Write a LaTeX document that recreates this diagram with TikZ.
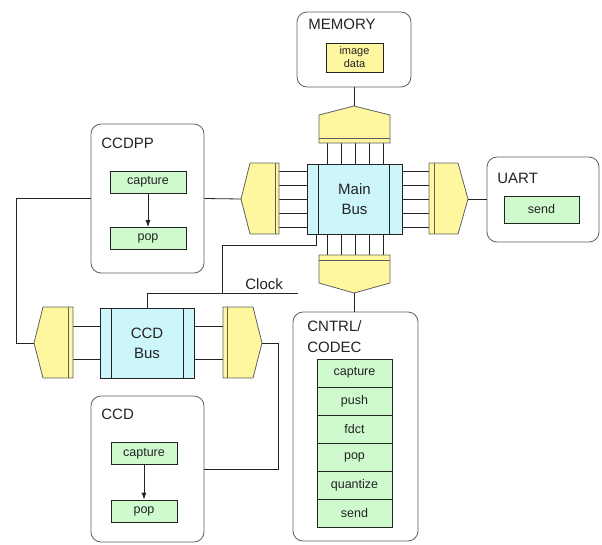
\documentclass[tikz,border=0pt]{standalone}
\usepackage{fontspec}
\setmainfont{Liberation Sans}
\usetikzlibrary{arrows.meta,calc}

\definecolor{portyellow}{RGB}{255,247,160}
\definecolor{buscyan}{RGB}{204,246,250}
\definecolor{taskgreen}{RGB}{206,250,206}
\definecolor{edgegray}{RGB}{95,95,95}
\definecolor{inkgray}{RGB}{35,35,35}

\begin{document}
\begin{tikzpicture}[x=1pt,y=-1pt,line width=0.8pt,
    unit/.style={draw=edgegray, rounded corners=10pt, fill=white, inner sep=0},
    title/.style={anchor=base west, inner sep=0, text=inkgray, font=\fontsize{15}{21}\selectfont, align=left},
    task/.style={draw=inkgray, fill=taskgreen, inner sep=0, minimum height=22pt, text=inkgray, font=\fontsize{12.5}{14}\selectfont},
    bus/.style={draw=inkgray, fill=buscyan, inner sep=0, text=inkgray, align=center, font=\fontsize{15}{20}\selectfont},
    port/.style={draw=edgegray, fill=portyellow, line join=round},
    wire/.style={draw=inkgray}]
    \useasboundingbox (0,0) rectangle (602,544);

    % units
    \node[unit, minimum width=114pt, minimum height=75pt] (mem) at (354,49.5) {};
    \node[title] at (308,29) {MEMORY};
    \node[draw=inkgray, fill=portyellow, minimum width=57pt, minimum height=29pt, inner sep=0,
          align=center, text=inkgray, font=\fontsize{11}{13}\selectfont] (img) at (354.5,57.5) {image\\data};

    \node[unit, minimum width=113pt, minimum height=149pt] (ccdpp) at (147.5,198.5) {};
    \node[title] at (101,148) {CCDPP};
    \node[task, minimum width=76pt] (ccdppcap) at (148,182) {capture};
    \node[task, minimum width=76pt] (ccdpppop) at (148,238.5) {pop};
    \draw[wire, -{Latex[length=7pt,width=5pt]}] (ccdppcap) -- (ccdpppop);

    \node[unit, minimum width=112pt, minimum height=85pt] (uart) at (543,199.5) {};
    \node[title] at (497,183) {UART};
    \node[task, minimum width=75pt, minimum height=27pt] (uartsend) at (541.5,209.5) {send};

    \node[unit, minimum width=113pt, minimum height=146pt] (ccd) at (147.5,469) {};
    \node[title] at (101,419) {CCD};
    \node[task, minimum width=66pt] (ccdcap) at (144,453.5) {capture};
    \node[task, minimum width=66pt] (ccdpop) at (144,511) {pop};
    \draw[wire, -{Latex[length=7pt,width=5pt]}] (ccdcap) -- (ccdpop);

    \node[unit, minimum width=125pt, minimum height=229pt] (cntrl) at (355.5,426.5) {};
    \node[title] at (307,352) {CNTRL/\\CODEC};
    \foreach \t [count=\i] in {capture,push,fdct,pop,quantize,send}
        \node[task, minimum width=75pt, minimum height=28pt] (op\i) at (354.5,345+28*\i) {\t};

    % bus wires
    \foreach \x in {327,341,355,369,383} {
        \draw[wire] (\x,143) -- (\x,164);
        \draw[wire] (\x,234) -- (\x,255);
    }
    \foreach \y in {171,185,199,213,227} {
        \draw[wire] (279,\y) -- (307,\y);
        \draw[wire] (402,\y) -- (429,\y);
    }
    \foreach \y in {326,359} {
        \draw[wire] (73,\y) -- (100,\y);
        \draw[wire] (194,\y) -- (223,\y);
    }

    % main bus and its ports
    \node[bus, minimum width=95pt, minimum height=70pt] (mainbus) at (354.5,199) {Main\\Bus};
    \draw[inkgray] ($(mainbus.north west)+(12,0)$) -- ($(mainbus.south west)+(12,0)$);
    \draw[inkgray] ($(mainbus.north east)+(-13,0)$) -- ($(mainbus.south east)+(-13,0)$);

    \draw[port] (319,143) -- (319,115) -- (354,106) coordinate (toptip) -- (390,115) -- (390,143) -- cycle;
    \draw[edgegray] (319,138) -- (390,138);
    \draw[port] (279,163) -- (250,163) -- (241,199) coordinate (lefttip) -- (250,234) -- (279,234) -- cycle;
    \draw[edgegray] (275,163) -- (275,234);
    \draw[port] (429,163) -- (458,163) -- (468,199) coordinate (righttip) -- (458,234) -- (429,234) -- cycle;
    \draw[edgegray] (434,163) -- (434,234);
    \draw[port] (319,255) -- (390,255) -- (390,283) -- (354,293) coordinate (bottip) -- (319,283) -- cycle;
    \draw[edgegray] (319,260) -- (390,260);

    % ccd bus and its ports
    \node[bus, minimum width=94pt, minimum height=70pt] (ccdbus) at (147,343) {CCD\\Bus};
    \draw[inkgray] ($(ccdbus.north west)+(12,0)$) -- ($(ccdbus.south west)+(12,0)$);
    \draw[inkgray] ($(ccdbus.north east)+(-11,0)$) -- ($(ccdbus.south east)+(-11,0)$);

    \draw[port] (73,307) -- (43,307) -- (34,343) coordinate (ccdlefttip) -- (43,378) -- (73,378) -- cycle;
    \draw[edgegray] (68,307) -- (68,378);
    \draw[port] (223,307) -- (253,307) -- (262,343) coordinate (ccdrighttip) -- (253,378) -- (223,378) -- cycle;
    \draw[edgegray] (227,307) -- (227,378);

    % links
    \draw[wire] (mem.south) -- (toptip);
    \draw[wire] (ccdpp.east) -- (lefttip);
    \draw[wire] (righttip) -- (uart.west |- righttip);
    \draw[wire] (bottip) -- (bottip |- cntrl.north);
    \draw[wire] (ccdpp.west) -- ++(-74,0) |- (ccdlefttip);
    \draw[wire] (ccdrighttip) -- ++(16,0) |- (ccd.east);

    % clock
    \coordinate (clk) at (222,293);
    \draw[wire] ($(mainbus.south west)+(10,0)$) -- ++(0,11) -| (clk) -| (ccdbus.north);
    \draw[wire] (clk) -- (298,293);
    \node[title] at (245,289) {Clock};
\end{tikzpicture}
\end{document}
